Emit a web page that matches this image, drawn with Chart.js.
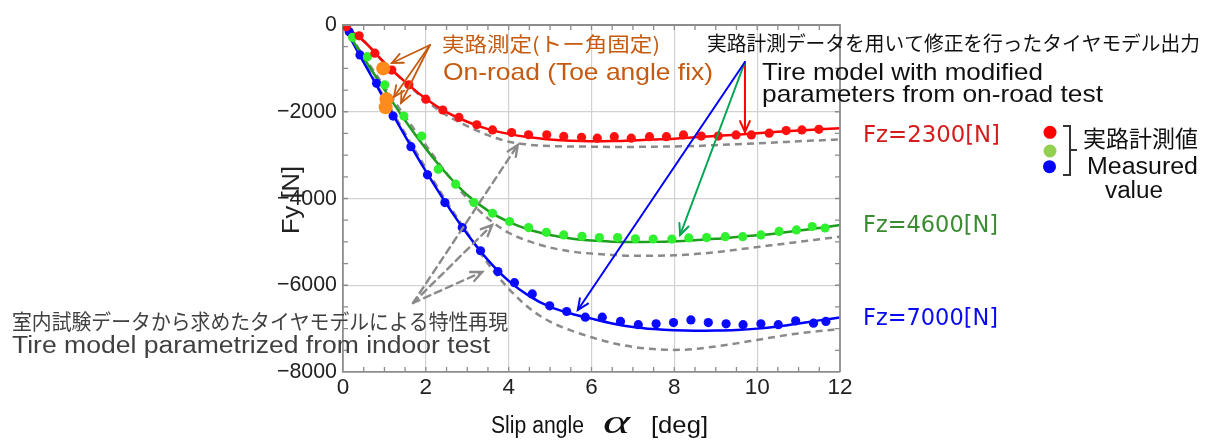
<!DOCTYPE html>
<html>
<head>
<meta charset="utf-8">
<script src="https://cdn.jsdelivr.net/npm/chart.js@4.4.1/dist/chart.umd.min.js"></script>
<style>
  html, body { margin: 0; padding: 0; background: #ffffff; }
  #wrap { width: 1206px; height: 441px; }
</style>
</head>
<body>
<div id="wrap"><canvas id="fy" width="1206" height="441"></canvas></div>
<script>
// ---- axes ----
const xTicks = [0, 2, 4, 6, 8, 10, 12];
const yTicks = [0, -2000, -4000, -6000, -8000];

// slip angles at which the model curves are sampled [deg]
const modelAlpha = [0, 0.5, 1, 1.5, 2, 2.5, 3, 3.5, 4, 4.5, 5, 5.5, 6, 6.5, 7, 7.5, 8, 8.5, 9, 9.5, 10, 10.5, 11, 11.5, 12];

// tire model corrected with on-road data [N]
const fitFz2300 = [0, -370, -870, -1310, -1700, -2010, -2230, -2400, -2510, -2590, -2640, -2670, -2680, -2675, -2660, -2640, -2620, -2590, -2560, -2530, -2495, -2460, -2430, -2405, -2380];
const fitFz4600 = [0, -760, -1490, -2200, -2850, -3430, -3920, -4280, -4540, -4720, -4840, -4920, -4970, -4995, -5005, -5000, -4985, -4960, -4930, -4890, -4850, -4800, -4740, -4680, -4610];
const fitFz7000 = [0, -860, -1720, -2560, -3370, -4130, -4820, -5420, -5900, -6250, -6500, -6650, -6770, -6880, -6960, -7010, -7040, -7050, -7045, -7030, -7000, -6950, -6880, -6810, -6745];

// tire model identified from indoor test [N]
const indoorFz2300 = [0, -370, -870, -1320, -1740, -2080, -2330, -2540, -2690, -2760, -2790, -2800, -2805, -2810, -2810, -2805, -2800, -2790, -2770, -2750, -2730, -2705, -2680, -2660, -2635];
const indoorFz4600 = [0, -720, -1420, -2110, -2770, -3420, -4000, -4460, -4790, -4990, -5130, -5220, -5270, -5300, -5320, -5320, -5310, -5280, -5240, -5180, -5120, -5060, -5000, -4940, -4880];
const indoorFz7000 = [0, -840, -1680, -2500, -3300, -4070, -4790, -5500, -6080, -6530, -6840, -7040, -7200, -7330, -7420, -7470, -7490, -7470, -7410, -7340, -7260, -7180, -7110, -7055, -7010];

// on-road measurements
const measAlpha2300 = [0.08, 0.39, 0.77, 1.18, 1.59, 2.0, 2.41, 2.8, 3.23, 3.61, 4.07, 4.48, 4.92, 5.33, 5.76, 6.14, 6.55, 6.96, 7.40, 7.81, 8.22, 8.65, 9.06, 9.49, 9.86, 10.29, 10.70, 11.08, 11.49];
const measFy2300    = [-40, -250, -650, -1040, -1380, -1710, -1960, -2130, -2300, -2420, -2480, -2530, -2530, -2570, -2590, -2610, -2575, -2610, -2575, -2575, -2535, -2560, -2560, -2535, -2535, -2495, -2435, -2420, -2405];

const measAlpha4600 = [0.23, 0.59, 1.01, 1.47, 1.90, 2.30, 2.72, 3.16, 3.61, 4.02, 4.48, 4.91, 5.33, 5.77, 6.19, 6.63, 7.06, 7.49, 7.94, 8.35, 8.78, 9.23, 9.65, 10.09, 10.53, 10.95, 11.33, 11.64];
const measFy4600    = [-285, -730, -1380, -2100, -2560, -3325, -3670, -4095, -4340, -4530, -4670, -4780, -4840, -4870, -4900, -4900, -4930, -4935, -4935, -4910, -4900, -4880, -4880, -4840, -4760, -4725, -4645, -4680];

const measAlpha7000 = [0.15, 0.41, 0.81, 1.21, 1.64, 2.04, 2.46, 2.88, 3.32, 3.74, 4.14, 4.57, 4.99, 5.40, 5.85, 6.26, 6.70, 7.13, 7.56, 7.98, 8.40, 8.82, 9.25, 9.66, 10.09, 10.51, 10.93, 11.36, 11.66];
const measFy7000    = [-155, -690, -1345, -2100, -2805, -3455, -4095, -4670, -5205, -5685, -5940, -6200, -6475, -6605, -6735, -6735, -6835, -6910, -6890, -6860, -6800, -6860, -6890, -6910, -6890, -6910, -6820, -6875, -6835];

// on-road, toe angle fixed
const toeFixAlpha = [0.97, 1.05, 1.03];
const toeFixFy    = [-1000, -1710, -1895];

const zip = (xs, ys) => xs.map((x, i) => ({ x: x, y: ys[i] }));

const LATIN = "'Liberation Sans', Arial, sans-serif";
const JP = "'Noto Sans CJK JP', 'Liberation Sans', sans-serif";

// text placed by anchor; optional target width or horizontal factor
function putText(ctx, str, x, y, o) {
  ctx.save();
  ctx.font = (o.style ? o.style + ' ' : '') + o.size + 'px ' + o.family;
  ctx.fillStyle = o.color;
  ctx.textAlign = 'left';
  ctx.textBaseline = o.baseline || 'alphabetic';
  const w = ctx.measureText(str).width;
  const sx = o.width ? o.width / w : (o.sx || 1);
  const shown = w * sx;
  const dx = o.align === 'right' ? -shown : o.align === 'center' ? -shown / 2 : 0;
  ctx.translate(x, y);
  if (o.rotate) ctx.rotate(o.rotate);
  ctx.translate(dx, 0);
  ctx.scale(sx, 1);
  ctx.fillText(str, 0, 0);
  ctx.restore();
}

function arrow(ctx, x0, y0, x1, y1, color, width, dash) {
  ctx.save();
  ctx.strokeStyle = color;
  ctx.lineWidth = width;
  ctx.lineCap = 'round';
  ctx.setLineDash(dash || []);
  ctx.beginPath();
  ctx.moveTo(x0, y0);
  ctx.lineTo(x1, y1);
  ctx.stroke();
  ctx.setLineDash([]);
  const a = Math.atan2(y1 - y0, x1 - x0), L = 12, sp = 0.42;
  ctx.beginPath();
  ctx.moveTo(x1 - L * Math.cos(a - sp), y1 - L * Math.sin(a - sp));
  ctx.lineTo(x1, y1);
  ctx.lineTo(x1 - L * Math.cos(a + sp), y1 - L * Math.sin(a + sp));
  ctx.stroke();
  ctx.restore();
}

const decor = {
  id: 'decor',
  beforeDraw(chart) {
    const ctx = chart.ctx;
    ctx.save();
    ctx.fillStyle = '#ffffff';
    ctx.fillRect(0, 0, chart.width, chart.height);
    ctx.restore();
  },
  afterDatasetsDraw(chart) {
    const ctx = chart.ctx;
    const { left, right, top, bottom } = chart.chartArea;
    const xs = chart.scales.x, ys = chart.scales.y;

    // frame and inward minor ticks
    ctx.save();
    ctx.strokeStyle = '#8c8c8c';
    ctx.lineWidth = 1.3;
    ctx.beginPath();
    for (let v = 0.5; v < 12; v += 0.5) {
      const px = xs.getPixelForValue(v);
      ctx.moveTo(px, bottom); ctx.lineTo(px, bottom - 5);
      ctx.moveTo(px, top); ctx.lineTo(px, top + 5);
    }
    for (let v = -500; v > -8000; v -= 500) {
      const py = ys.getPixelForValue(v);
      ctx.moveTo(left, py); ctx.lineTo(left + 5, py);
      ctx.moveTo(right, py); ctx.lineTo(right - 5, py);
    }
    ctx.stroke();
    ctx.lineWidth = 1.8;
    ctx.beginPath();
    ctx.moveTo(left, top); ctx.lineTo(right, top); ctx.lineTo(right, bottom);
    ctx.stroke();
    ctx.restore();

    const P = (a, f) => [xs.getPixelForValue(a), ys.getPixelForValue(f)];

    // pointers from the on-road (toe fixed) label
    const toeFrom = P(2.10, -461);
    [[1.18, -876], [1.23, -1660], [1.40, -1798]].forEach(t => {
      const p = P(t[0], t[1]);
      arrow(ctx, toeFrom[0], toeFrom[1], p[0], p[1], '#c55a11', 1.8);
    });

    // pointers from the indoor-model label
    const inFrom = P(1.69, -6409);
    [[4.22, -2767], [3.60, -4611], [3.36, -5695]].forEach(t => {
      const p = P(t[0], t[1]);
      arrow(ctx, inFrom[0], inFrom[1], p[0], p[1], '#8a8a8a', 2.4, [7, 5]);
    });

    // pointers from the corrected-model label
    const fitFrom = P(9.705, -853);
    [[9.705, -2467, '#ff0000'], [8.14, -4842, '#00a651'], [5.67, -6571, '#0000ff']].forEach(t => {
      const p = P(t[0], t[1]);
      arrow(ctx, fitFrom[0], fitFrom[1], p[0], p[1], t[2], 2);
    });
  },
  afterDraw(chart) {
    const ctx = chart.ctx;
    const xs = chart.scales.x, ys = chart.scales.y;

    // tick labels
    xTicks.forEach(v => {
      putText(ctx, String(v), xs.getPixelForValue(v), 388, { size: 22.5, family: LATIN, color: '#222', align: 'center', baseline: 'middle' });
    });
    yTicks.forEach(v => {
      const s = v === 0 ? '0' : '\u2212' + Math.abs(v);
      putText(ctx, s, 337, ys.getPixelForValue(v), { size: 22.5, family: LATIN, color: '#222', sx: 0.95, align: 'right', baseline: 'middle' });
    });

    // axis titles
    putText(ctx, 'Fy [N]', 299, 200, { size: 23, family: LATIN, color: '#222', width: 68, align: 'center', rotate: -Math.PI / 2 });
    putText(ctx, 'Slip angle', 491, 433, { size: 23, family: LATIN, color: '#111', width: 93 });
    putText(ctx, 'α', 603, 433, { size: 34, family: "'Liberation Serif', 'DejaVu Serif', serif", style: 'italic', color: '#111', width: 27 });
    putText(ctx, '[deg]', 651, 433, { size: 24, family: LATIN, color: '#111', width: 57 });

    // on-road (toe angle fixed) label
    putText(ctx, '実路測定(トー角固定)', 442, 44, { size: 20, family: JP, color: '#c55a11', width: 218, baseline: 'middle' });
    putText(ctx, 'On-road (Toe angle fix)', 443, 80, { size: 24, family: LATIN, color: '#c55a11', width: 270 });

    // corrected model label
    putText(ctx, '実路計測データを用いて修正を行ったタイヤモデル出力', 707, 43, { size: 20, family: JP, color: '#111', width: 493, baseline: 'middle' });
    putText(ctx, 'Tire model with modified', 762, 80, { size: 24, family: LATIN, color: '#111', width: 281 });
    putText(ctx, 'parameters from on-road test', 762, 102, { size: 24, family: LATIN, color: '#111', width: 341 });

    // indoor model label
    putText(ctx, '室内試験データから求めたタイヤモデルによる特性再現', 12, 321, { size: 21, family: JP, color: '#404040', width: 496, baseline: 'middle' });
    putText(ctx, 'Tire model parametrized from indoor test', 12, 353, { size: 23, family: LATIN, color: '#404040', width: 478 });

    // load labels
    putText(ctx, 'Fz=2300[N]', 863, 141.5, { size: 23, family: "'DejaVu Sans', sans-serif", color: '#d41c1c', width: 137 });
    putText(ctx, 'Fz=4600[N]', 863, 231.5, { size: 23, family: "'DejaVu Sans', sans-serif", color: '#3a8c30', width: 135 });
    putText(ctx, 'Fz=7000[N]', 863, 325, { size: 23, family: "'DejaVu Sans', sans-serif", color: '#0a0aee', width: 135 });

    // measured-value key
    ctx.save();
    [[1050, 132.3, '#ff0000'], [1050, 151, '#92d050'], [1049.5, 166.7, '#0000ff']].forEach(d => {
      ctx.fillStyle = d[2];
      ctx.beginPath(); ctx.arc(d[0], d[1], 6.5, 0, Math.PI * 2); ctx.fill();
    });
    ctx.strokeStyle = '#333';
    ctx.lineWidth = 2;
    ctx.beginPath();
    ctx.moveTo(1063, 126); ctx.lineTo(1070, 126); ctx.lineTo(1070, 175); ctx.lineTo(1063, 175);
    ctx.moveTo(1070, 150); ctx.lineTo(1077, 150);
    ctx.stroke();
    ctx.restore();
    putText(ctx, '実路計測値', 1083, 138, { size: 23, family: JP, color: '#111', width: 115, baseline: 'middle' });
    putText(ctx, 'Measured', 1087, 174, { size: 23, family: LATIN, color: '#111', width: 111 });
    putText(ctx, 'value', 1105, 197.5, { size: 23, family: LATIN, color: '#111', width: 58 });
  }
};

const lineBase = { showLine: true, pointRadius: 0, pointHoverRadius: 0, fill: false, cubicInterpolationMode: 'monotone', borderWidth: 2.5 };
const dotBase = { showLine: false, pointRadius: 4.6, pointBorderWidth: 0, pointHoverRadius: 4.6 };

new Chart(document.getElementById('fy'), {
  type: 'scatter',
  data: {
    datasets: [
      Object.assign({ label: 'indoor 2300', data: zip(modelAlpha, indoorFz2300), borderColor: '#8a8a8a', borderDash: [7, 5], order: 4 }, lineBase),
      Object.assign({ label: 'indoor 4600', data: zip(modelAlpha, indoorFz4600), borderColor: '#8a8a8a', borderDash: [7, 5], order: 4 }, lineBase),
      Object.assign({ label: 'indoor 7000', data: zip(modelAlpha, indoorFz7000), borderColor: '#8a8a8a', borderDash: [7, 5], order: 4 }, lineBase),
      Object.assign({ label: 'fit 2300', data: zip(modelAlpha, fitFz2300), borderColor: '#ff0000', order: 3 }, lineBase),
      Object.assign({ label: 'fit 4600', data: zip(modelAlpha, fitFz4600), borderColor: '#1e9e1e', order: 3 }, lineBase),
      Object.assign({ label: 'fit 7000', data: zip(modelAlpha, fitFz7000), borderColor: '#0000ff', order: 3 }, lineBase),
      Object.assign({ label: 'meas 2300', data: zip(measAlpha2300, measFy2300), backgroundColor: '#ff1010', order: 2 }, dotBase),
      Object.assign({ label: 'meas 4600', data: zip(measAlpha4600, measFy4600), backgroundColor: '#30f030', order: 2 }, dotBase),
      Object.assign({ label: 'meas 7000', data: zip(measAlpha7000, measFy7000), backgroundColor: '#0a0aff', order: 2 }, dotBase),
      { label: 'toe fixed', data: zip(toeFixAlpha, toeFixFy), backgroundColor: '#ff8c1a', showLine: false, pointRadius: 7, pointBorderWidth: 0, pointHoverRadius: 7, order: 1 }
    ]
  },
  options: {
    responsive: false,
    animation: false,
    events: [],
    layout: { padding: { left: 0, right: 366, top: 25, bottom: 0 } },
    plugins: { legend: { display: false }, tooltip: { enabled: false } },
    scales: {
      x: {
        type: 'linear', min: 0, max: 12,
        afterBuildTicks: s => { s.ticks = xTicks.map(v => ({ value: v })); },
        afterFit: s => { s.height = 69; },
        grid: { color: c => (c.tick && (c.tick.value === 0 || c.tick.value === 12)) ? 'rgba(0,0,0,0)' : '#d2d2d2', lineWidth: 1.2, drawTicks: false },
        border: { display: true, color: '#8c8c8c', width: 1.8 },
        ticks: { display: false }
      },
      y: {
        type: 'linear', min: -8000, max: 0,
        afterBuildTicks: s => { s.ticks = yTicks.map(v => ({ value: v })); },
        afterFit: s => { s.width = 343; },
        grid: { color: c => (c.tick && (c.tick.value === 0 || c.tick.value === -8000)) ? 'rgba(0,0,0,0)' : '#d2d2d2', lineWidth: 1.2, drawTicks: false },
        border: { display: true, color: '#8c8c8c', width: 1.8 },
        ticks: { display: false }
      }
    }
  },
  plugins: [decor]
});
</script>
</body>
</html>
